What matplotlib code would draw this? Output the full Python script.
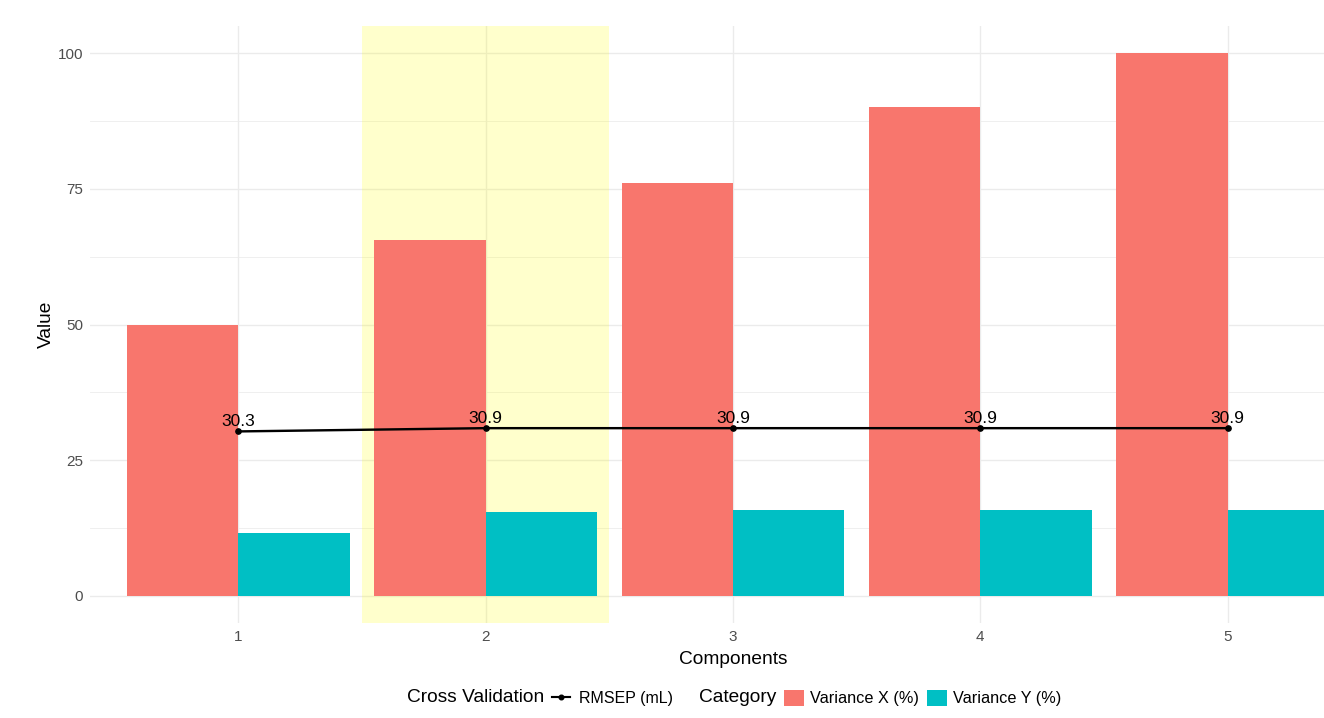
import numpy as np
import matplotlib
matplotlib.use("Agg")
import matplotlib.pyplot as plt
from matplotlib.lines import Line2D
from matplotlib.patches import Patch

components = [1, 2, 3, 4, 5]
variance_x = [50.0, 65.5, 76.0, 90.0, 100.0]
variance_y = [11.6, 15.5, 15.8, 15.8, 15.8]
rmsep = [30.3, 30.9, 30.9, 30.9, 30.9]
rmsep_labels = ["30.3", "30.9", "30.9", "30.9", "30.9"]
highlight_component = 2
y_ticks = [0, 25, 50, 75, 100]

RED = "#F8766D"
CYAN = "#00BFC4"
GRID = "#EBEBEB"
TICK = "#4D4D4D"

plt.rcParams["font.family"] = ["Liberation Sans", "DejaVu Sans"]

W, H, DPI = 1324, 718, 96
fig = plt.figure(figsize=(W / DPI, H / DPI), dpi=DPI)
fig.patch.set_facecolor("white")

left_px, right_px, top_px, bottom_px = 90, 1376, 26, 623
ax = fig.add_axes([left_px / W, 1 - bottom_px / H,
                   (right_px - left_px) / W, (bottom_px - top_px) / H])
ax.set_facecolor("white")
for s in ax.spines.values():
    s.set_visible(False)

comps = np.array(components, dtype=float)
bw = 0.45

ax.set_xlim(0.4, 5.6)
ax.set_ylim(-5, 105)

# grid
ax.set_yticks(y_ticks)
ax.set_yticks([12.5, 37.5, 62.5, 87.5], minor=True)
ax.set_xticks(components)
ax.grid(True, which="major", axis="both", color=GRID, lw=1.0, zorder=0)
ax.grid(True, which="minor", axis="y", color=GRID, lw=0.6, zorder=0)
ax.set_axisbelow(True)

# highlight
ax.axvspan(highlight_component - 0.5, highlight_component + 0.5,
           color=(1, 1, 0, 0.2), lw=0, zorder=1)

ax.bar(comps - bw / 2, variance_x, width=bw, color=RED, zorder=2)
ax.bar(comps + bw / 2, variance_y, width=bw, color=CYAN, zorder=2)

ax.plot(comps, rmsep, color="black", lw=1.8, marker="o", ms=4, zorder=4)
for xi, yi, lab in zip(comps, rmsep, rmsep_labels):
    ax.annotate(lab, (xi, yi), xytext=(0, 1.5), textcoords="offset points",
                ha="center", va="bottom", fontsize=13, color="black", zorder=5)

ax.tick_params(axis="both", which="both", length=0, labelsize=11.4,
               labelcolor=TICK, pad=5)
ax.set_xticklabels([str(c) for c in components])
ax.set_xlabel("Components", fontsize=14.3, color="black", labelpad=5.5)
ax.set_ylabel("Value", fontsize=14.3, color="black", labelpad=2)

# legends
ly = 1 - 698 / H
fig.text(407 / W, ly, "Cross Validation", fontsize=14.3, va="center", ha="left")
fig.legend(handles=[Line2D([], [], color="black", lw=1.6, marker="o", ms=3.5)],
           labels=["RMSEP (mL)"], loc="center left",
           bbox_to_anchor=(552 / W, ly), frameon=False, fontsize=12,
           borderpad=0, borderaxespad=0, handlelength=1.15, handletextpad=0.55)
fig.text(699 / W, ly, "Category", fontsize=14.3, va="center", ha="left")
fig.legend(handles=[Patch(facecolor=RED), Patch(facecolor=CYAN)],
           labels=["Variance X (%)", "Variance Y (%)"], ncol=2,
           loc="center left", bbox_to_anchor=(784 / W, ly), frameon=False,
           fontsize=12.2, borderpad=0, borderaxespad=0, handlelength=1.22,
           handleheight=1.22, handletextpad=0.38, columnspacing=0.5)

fig.savefig("out.png", dpi=DPI)
